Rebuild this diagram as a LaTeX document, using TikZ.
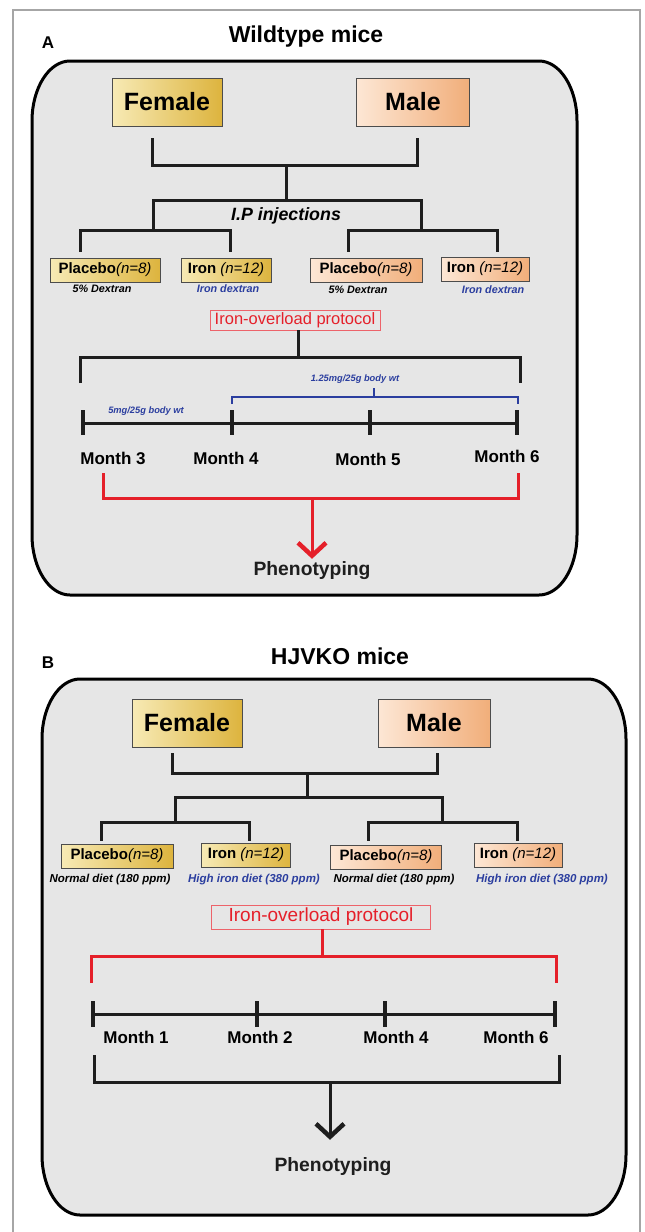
\documentclass[tikz,border=0pt]{standalone}
\usepackage{fontspec}
\setmainfont{Liberation Sans}
\usepackage{xcolor}
\usepackage{tikz}
\usetikzlibrary{shapes}
\usetikzlibrary{arrows,arrows.meta}
\usetikzlibrary{calc}
\definecolor{femlight}{HTML}{F7EAB5}
\definecolor{femdark}{HTML}{DDB43E}
\definecolor{malelight}{HTML}{FDE7D5}
\definecolor{maledark}{HTML}{F1AE7A}
\definecolor{panelgray}{HTML}{E6E6E6}
\definecolor{linkblack}{HTML}{1E1E1E}
\definecolor{doseblue}{HTML}{2B3E9F}
\definecolor{alertred}{HTML}{E5202A}
\definecolor{framegray}{HTML}{A6A6A6}
\tikzset{
  sex node/.style={draw=black!70,line width=0.8pt,minimum height=48pt,inner sep=2pt,font=\fontsize{25}{28}\selectfont\bfseries},
  group node/.style={draw=black!70,line width=0.7pt,minimum height=24pt,inner sep=2pt,font=\fontsize{15}{17}\selectfont\bfseries},
  female/.style={left color=femlight,right color=femdark},
  male/.style={left color=malelight,right color=maledark},
  note/.style={inner sep=1pt,font=\fontsize{10.8}{12}\selectfont\bfseries\itshape},
  diet/.style={inner sep=1pt,font=\fontsize{11.5}{13}\selectfont\bfseries\itshape},
  dose/.style={inner sep=1pt,text=doseblue,font=\fontsize{9.3}{11}\selectfont\bfseries\itshape},
  overload/.style={draw=alertred!70,line width=0.8pt,text=alertred,inner sep=1pt},
  month/.style={inner sep=1pt,font=\fontsize{17}{19}\selectfont\bfseries},
  pheno/.style={anchor=base,inner sep=2pt,text=linkblack,font=\fontsize{19.3}{22}\selectfont\bfseries},
  title/.style={font=\fontsize{23}{26}\selectfont\bfseries},
  panel label/.style={font=\fontsize{17}{19}\selectfont\bfseries},
  panel/.style={draw=black,fill=panelgray,line width=3pt},
  link/.style={draw=linkblack,line width=3pt},
  tick/.style={draw=linkblack,line width=3.5pt},
  redlink/.style={draw=alertred,line width=3pt},
  dosebr/.style={draw=doseblue,line width=1.5pt},
  frame/.style={draw=framegray,line width=2.5pt}
}

\begin{document}
\begin{tikzpicture}[x=1pt,y=-1pt,
        >={Straight Barb[length=13pt,width=28pt,line width=4.5pt]}]
  \useasboundingbox (0,0) rectangle (645,1232);
  \draw[frame] (13,1232) -- (13,10) -- (640,10) -- (640,1232);

  % panel A: wildtype
  \node[panel label] (labA) at (48,43) {A};
  \node[title] (ttlA) at (306,37) {Wildtype mice};
  \draw[panel] (32,121) .. controls (32,88) and (49,61) .. (70,61) -- (539,61)
    .. controls (560,61) and (577,88) .. (577,121) -- (577,535)
    .. controls (577,568) and (560,595) .. (539,595) -- (70,595)
    .. controls (49,595) and (32,568) .. (32,535) -- cycle;
  \node[sex node,female,minimum width=110pt] (femA) at (167,102) {Female};
  \node[sex node,male,minimum width=113pt] (maleA) at (413,102) {Male};
  \coordinate (jA) at (286,165);
  \coordinate (kA) at (286,200);
  \coordinate (lA) at (153,230);
  \coordinate (rA) at (421,230);
  \draw[link] ($(femA.south)+(-15,12)$) |- (jA) -| ($(maleA.south)+(4,12)$);
  \draw[link] (jA) -- (kA);
  \draw[link] (lA) |- (kA) -| (rA);
  \node[font=\fontsize{17.8}{20}\selectfont\bfseries\itshape] (ipA) at (286,216) {I.P injections};
  \node[group node,female,minimum width=110pt] (plA1) at (105,270) {Placebo{\mdseries\itshape(n=8)}};
  \node[group node,female,minimum width=90pt] (irA1) at (226,270) {Iron {\mdseries\itshape(n=12)}};
  \node[group node,male,minimum width=112pt] (plA2) at (366,270) {Placebo{\mdseries\itshape(n=8)}};
  \node[group node,male,minimum width=88pt] (irA2) at (485,269) {Iron {\mdseries\itshape(n=12)}};
  \draw[link] ($(plA1.north)+(-25,-6)$) |- (lA) -| ($(irA1.north)+(4,-6)$);
  \draw[link] ($(plA2.north)+(-18,-6)$) |- (rA) -| ($(irA2.north)+(12,-5)$);
  \node[note] (nA1) at (102,289) {5\% Dextran};
  \node[note,text=doseblue] (nA2) at (228,289) {Iron dextran};
  \node[note] (nA3) at (358,290) {5\% Dextran};
  \node[note,text=doseblue] (nA4) at (493,290) {Iron dextran};

  \node[overload,minimum width=170pt,minimum height=20pt,font=\fontsize{16.5}{18}\selectfont] (ovA) at (295,320) {Iron-overload protocol};
  \coordinate (bA) at (298,357);
  \coordinate (tA1) at (83,423);
  \coordinate (tA2) at (232,423);
  \coordinate (tA3) at (370,423);
  \coordinate (tA4) at (517,423);
  \draw[link] (ovA.south -| bA) -- (bA);
  \draw[link] ($(tA1)+(-3,-40)$) |- (bA) -| ($(tA4)+(3,-40)$);
  \draw[link] (tA1) -- (tA4);
  \foreach \t in {tA1,tA2,tA3,tA4}
    \draw[tick] ($(\t)+(0,-13)$) -- ($(\t)+(0,12)$);
  \node[dose] (dA2) at (355,379) {1.25mg/25g body wt};
  \coordinate (dA) at (374,397);
  \draw[dosebr] ($(tA2)+(0,-19)$) |- (dA) -| ($(tA4)+(1,-19)$);
  \draw[dosebr] (dA) -- ++(0,-9);
  \node[dose] (dA1) at (146,411) {5mg/25g body wt};
  \node[month] (mA1) at (113,458) {Month 3};
  \node[month] (mA2) at (226,458) {Month 4};
  \node[month] (mA3) at (368,459) {Month 5};
  \node[month] (mA4) at (507,456) {Month 6};
  \coordinate (pA) at (312,498);
  \node[pheno] (phA) at (312,575) {Phenotyping};
  \draw[redlink] ($(tA1)+(20,50)$) |- (pA) -| ($(tA4)+(1,50)$);
  \draw[redlink,->] (pA) -- (pA |- phA.north);

  % panel B: HJVKO
  \node[panel label] (labB) at (48,663) {B};
  \node[title] (ttlB) at (340,656) {HJVKO mice};
  \draw[panel] (42,739) .. controls (42,706) and (59,679) .. (80,679) -- (588,679)
    .. controls (609,679) and (626,706) .. (626,739) -- (626,1155)
    .. controls (626,1188) and (609,1215) .. (588,1215) -- (80,1215)
    .. controls (59,1215) and (42,1188) .. (42,1155) -- cycle;
  \node[sex node,female,minimum width=110pt] (femB) at (187,723) {Female};
  \node[sex node,male,minimum width=112pt] (maleB) at (434,723) {Male};
  \coordinate (jB) at (307,773);
  \coordinate (kB) at (307,797);
  \coordinate (lB) at (175,822);
  \coordinate (rB) at (442,822);
  \draw[link] ($(femB.south)+(-15,6)$) |- (jB) -| ($(maleB.south)+(3,6)$);
  \draw[link] (jB) -- (kB);
  \draw[link] (lB) |- (kB) -| (rB);
  \node[group node,female,minimum width=112pt] (plB1) at (117,856) {Placebo{\mdseries\itshape(n=8)}};
  \node[group node,female,minimum width=89pt] (irB1) at (246,855) {Iron {\mdseries\itshape(n=12)}};
  \node[group node,male,minimum width=111pt] (plB2) at (386,857) {Placebo{\mdseries\itshape(n=8)}};
  \node[group node,male,minimum width=88pt] (irB2) at (518,855) {Iron {\mdseries\itshape(n=12)}};
  \draw[link] ($(plB1.north)+(-16,-3)$) |- (lB) -| ($(irB1.north)+(3,-2)$);
  \draw[link] ($(plB2.north)+(-18,-4)$) |- (rB) -| ($(irB2.north)+(-1,-2)$);
  \node[diet] (nB1) at (110,880) {Normal diet (180 ppm)};
  \node[diet,text=doseblue] (nB2) at (254,880) {High iron diet (380 ppm)};
  \node[diet] (nB3) at (394,880) {Normal diet (180 ppm)};
  \node[diet,text=doseblue] (nB4) at (542,880) {High iron diet (380 ppm)};

  \node[overload,minimum width=219pt,minimum height=24pt,font=\fontsize{19}{21}\selectfont] (ovB) at (321,917) {Iron-overload protocol};
  \coordinate (bB) at (322,956);
  \coordinate (tB1) at (93,1014);
  \coordinate (tB2) at (257,1014);
  \coordinate (tB3) at (385,1014);
  \coordinate (tB4) at (555,1014);
  \draw[redlink] (ovB.south -| bB) -- (bB);
  \draw[redlink] ($(tB1)+(-2,-31)$) |- (bB) -| ($(tB4)+(1,-31)$);
  \draw[link] (tB1) -- (tB4);
  \foreach \t in {tB1,tB2,tB3,tB4}
    \draw[tick] ($(\t)+(0,-13)$) -- ($(\t)+(0,13)$);
  \node[month] (mB1) at (136,1037) {Month 1};
  \node[month] (mB2) at (260,1037) {Month 2};
  \node[month] (mB3) at (396,1037) {Month 4};
  \node[month] (mB4) at (516,1037) {Month 6};
  \coordinate (pB) at (330,1082);
  \node[pheno] (phB) at (333,1171) {Phenotyping};
  \draw[link] ($(tB1)+(1,41)$) |- (pB) -| ($(tB4)+(4,41)$);
  \draw[link,->] (pB) -- ($(pB |- phB.north)+(0,-15)$);
\end{tikzpicture}
\end{document}
